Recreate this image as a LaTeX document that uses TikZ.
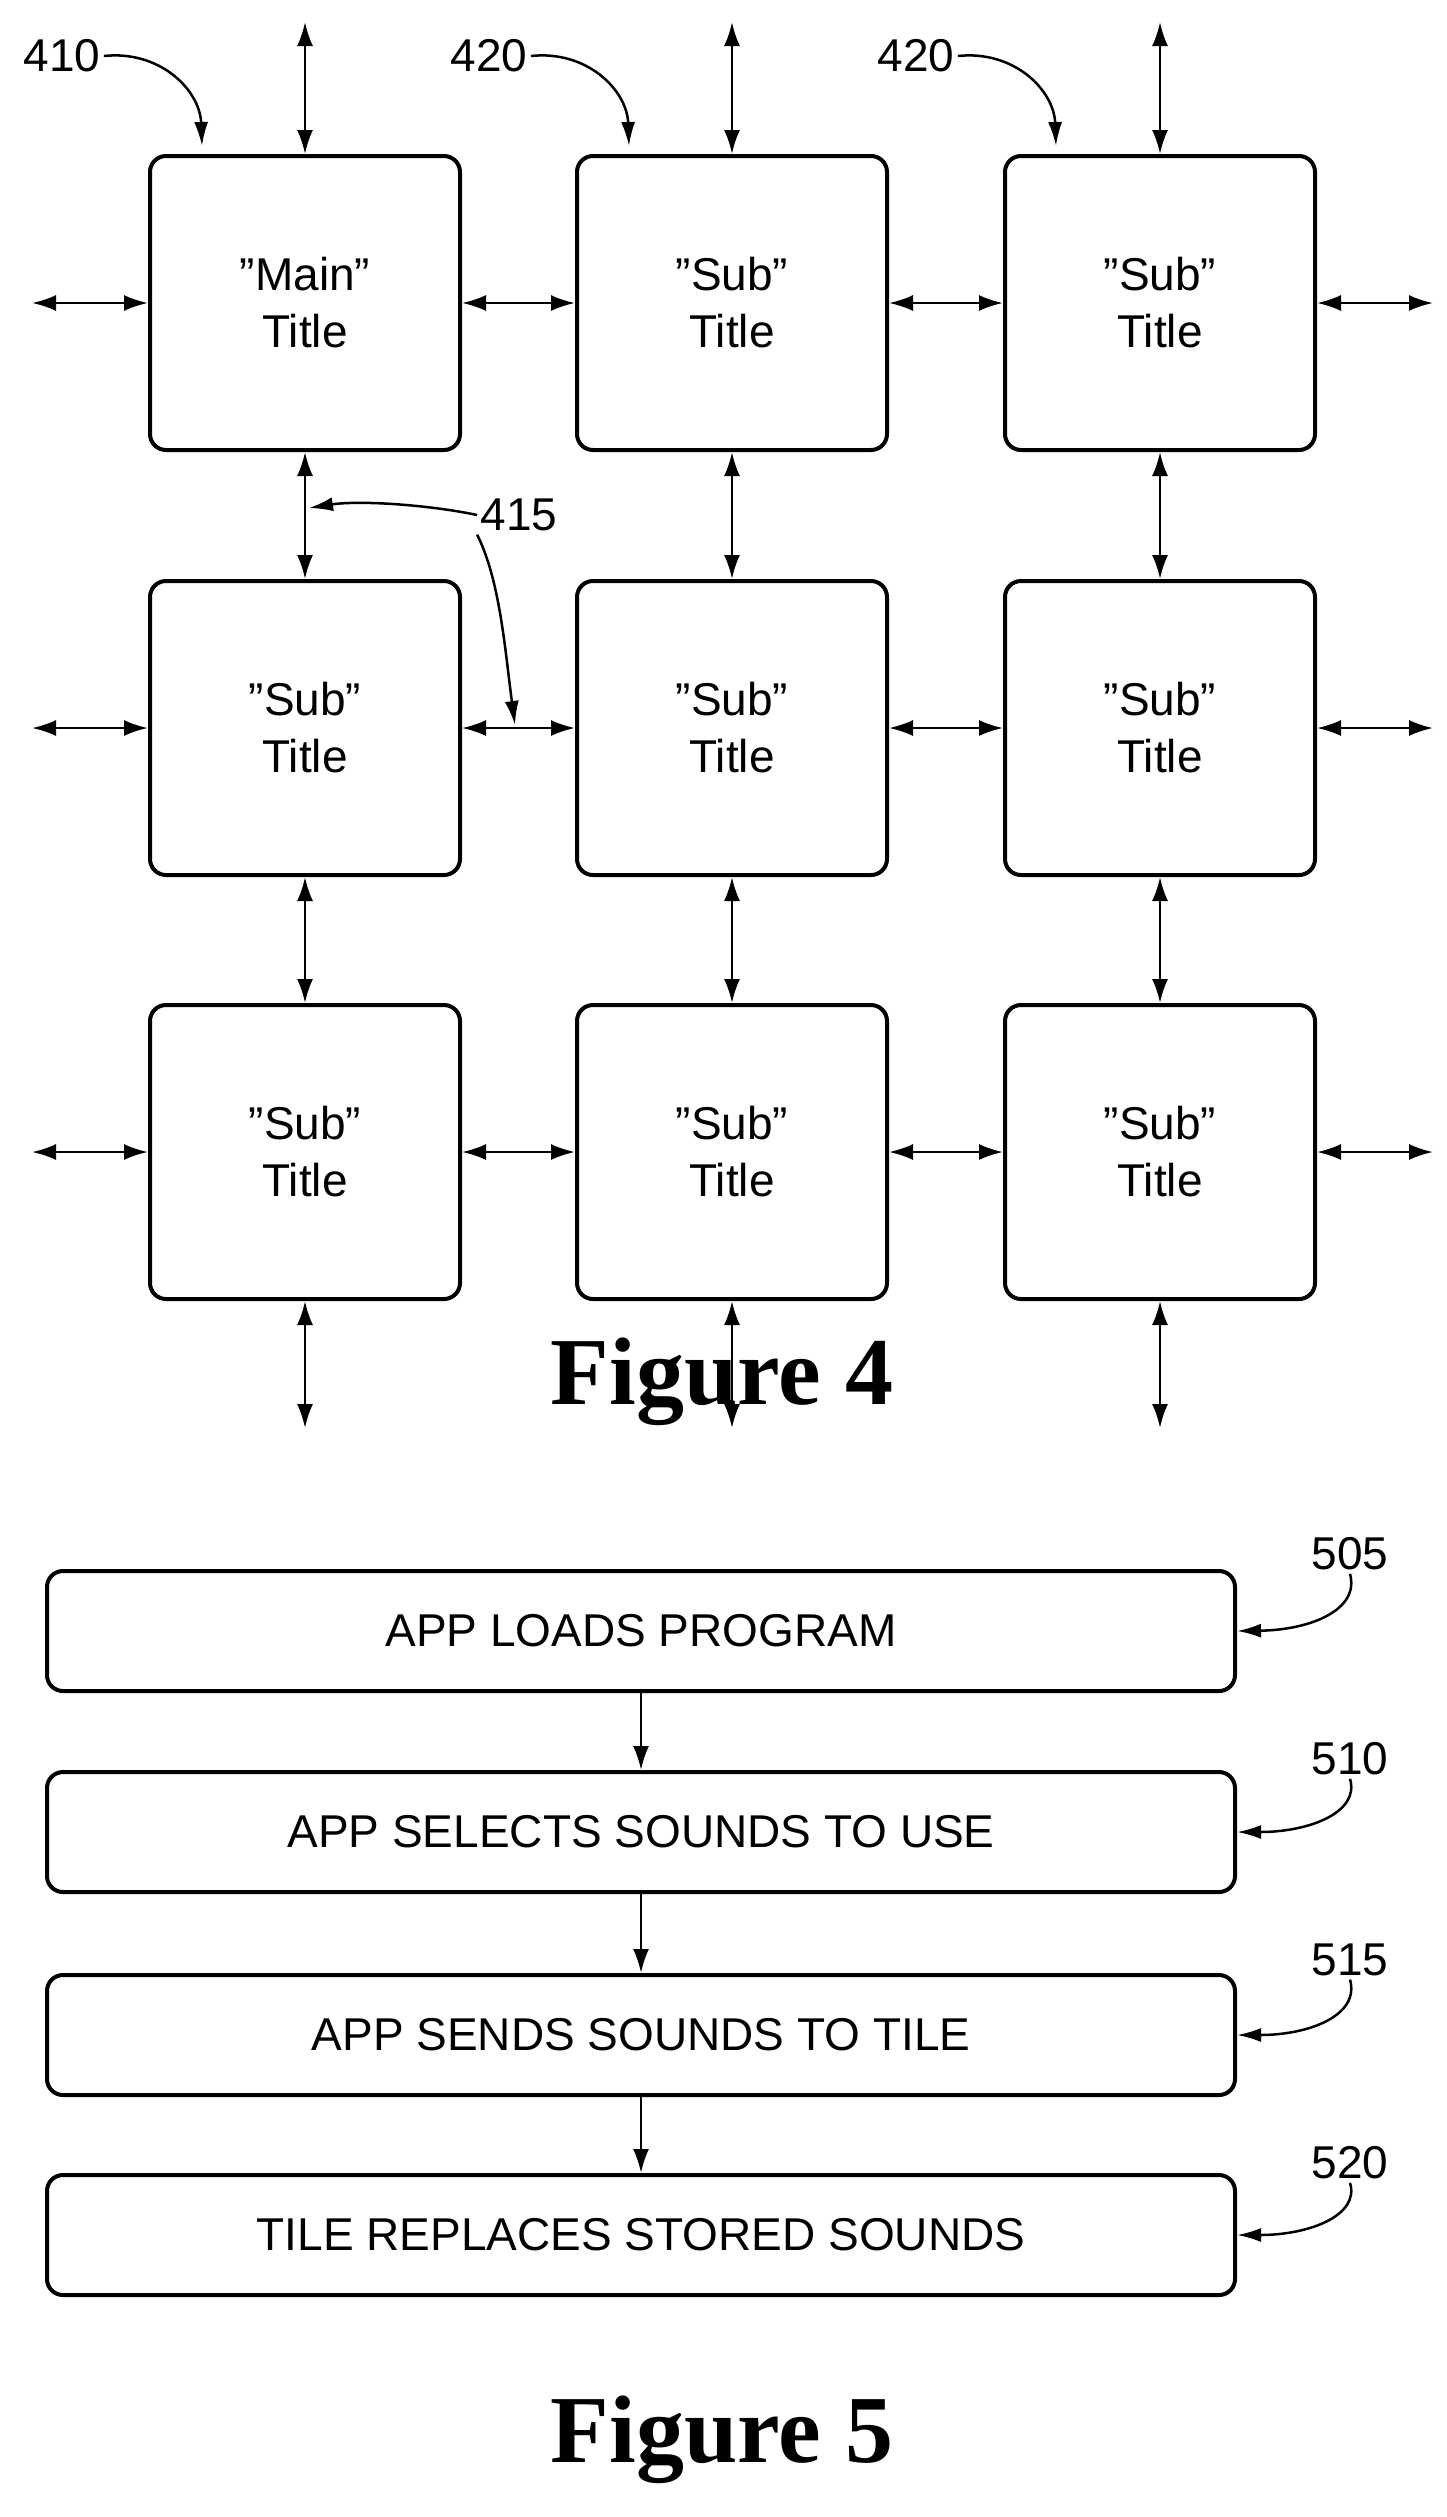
\documentclass[tikz,border=0pt]{standalone}
\usepackage{fontspec}
\setmainfont{Liberation Sans}
\newfontfamily\figfont{Liberation Serif}
\usetikzlibrary{arrows.meta}
\begin{document}
\begin{tikzpicture}[x=1pt,y=-1pt,
  mytile/.style={draw,line width=4pt,rounded corners=16pt,minimum width=310pt,minimum height=294pt,align=center,font=\fontsize{46}{57}\selectfont},
  mystep/.style={draw,line width=4pt,rounded corners=16pt,minimum width=1188pt,minimum height=120pt,font=\fontsize{46}{52}\selectfont},
  mylink/.style={line width=2.5pt,{Latex[length=24pt,width=16pt]}-{Latex[length=24pt,width=16pt]}},
  myflow/.style={line width=2.5pt,-{Latex[length=24pt,width=16pt]}},
  mylead/.style={line width=2.5pt,-{Latex[length=24pt,width=14pt]}},
  mynum/.style={font=\fontsize{46}{52}\selectfont},
  myfigcap/.style={font=\figfont\bfseries\fontsize{96}{100}\selectfont}]
\useasboundingbox (0,0) rectangle (1447,2517);
% grid
\node[mytile] (t11) at (305,303) {"Main"\\Title};
\node[mytile] (t12) at (732,303) {"Sub"\\Title};
\node[mytile] (t13) at (1160,303) {"Sub"\\Title};
\node[mytile] (t21) at (305,728) {"Sub"\\Title};
\node[mytile] (t22) at (732,728) {"Sub"\\Title};
\node[mytile] (t23) at (1160,728) {"Sub"\\Title};
\node[mytile] (t31) at (305,1152) {"Sub"\\Title};
\node[mytile] (t32) at (732,1152) {"Sub"\\Title};
\node[mytile] (t33) at (1160,1152) {"Sub"\\Title};
% free ends
\foreach \c/\x in {1/305,2/732,3/1160}{
  \coordinate (top\c) at (\x,22);
  \coordinate (bot\c) at (\x,1428);
  \draw[mylink] (top\c) -- (t1\c.north);
  \draw[mylink] (t3\c.south) -- (bot\c);
}
\foreach \r/\y in {1/303,2/728,3/1152}{
  \coordinate (lft\r) at (32,\y);
  \coordinate (rgt\r) at (1433,\y);
  \draw[mylink] (lft\r) -- (t\r1.west);
  \draw[mylink] (t\r3.east) -- (rgt\r);
  \draw[mylink] (t\r1.east) -- (t\r2.west);
  \draw[mylink] (t\r2.east) -- (t\r3.west);
}
\foreach \c in {1,2,3}{
  \draw[mylink] (t1\c.south) -- (t2\c.north);
  \draw[mylink] (t2\c.south) -- (t3\c.north);
}
% labels
\node[mynum] (n410) at (62,56) {410};
\node[mynum] (n420a) at (489,56) {420};
\node[mynum] (n420b) at (916,56) {420};
\draw[mylead] (n410.east) .. controls (160,50) and (200,90) .. (202,146);
\draw[mylead] (n420a.east) .. controls (587,50) and (627,90) .. (629,146);
\draw[mylead] (n420b.east) .. controls (1014,50) and (1054,90) .. (1056,146);
\node[mynum] (n415) at (519,515) {415};
\coordinate (p415a) at (309,508);
\coordinate (p415b) at (515,725);
\draw[mylead] (n415.west) .. controls (430,505) and (360,500) .. (p415a);
\draw[mylead] (n415.south west) .. controls (500,580) and (505,650) .. (p415b);
\node[myfigcap] (f4) at (722,1382) {Figure 4};
% figure 5
\node[mystep] (s1) at (641,1631) {APP LOADS PROGRAM};
\node[mystep] (s2) at (641,1832) {APP SELECTS SOUNDS TO USE};
\node[mystep] (s3) at (641,2035) {APP SENDS SOUNDS TO TILE};
\node[mystep] (s4) at (641,2235) {TILE REPLACES STORED SOUNDS};
\draw[myflow] (s1) -- (s2);
\draw[myflow] (s2) -- (s3);
\draw[myflow] (s3) -- (s4);
\foreach \n/\t/\y in {n505/505/1554,n510/510/1759,n515/515/1960,n520/520/2163}{
  \node[mynum] (\n) at (1350,\y) {\t};
}
\draw[mylead] (n505.south) .. controls (1360,1610) and (1310,1630) .. (s1.east);
\draw[mylead] (n510.south) .. controls (1360,1812) and (1310,1832) .. (s2.east);
\draw[mylead] (n515.south) .. controls (1360,2015) and (1310,2035) .. (s3.east);
\draw[mylead] (n520.south) .. controls (1360,2215) and (1310,2235) .. (s4.east);
\node[myfigcap] (f5) at (722,2440) {Figure 5};
\end{tikzpicture}
\end{document}
